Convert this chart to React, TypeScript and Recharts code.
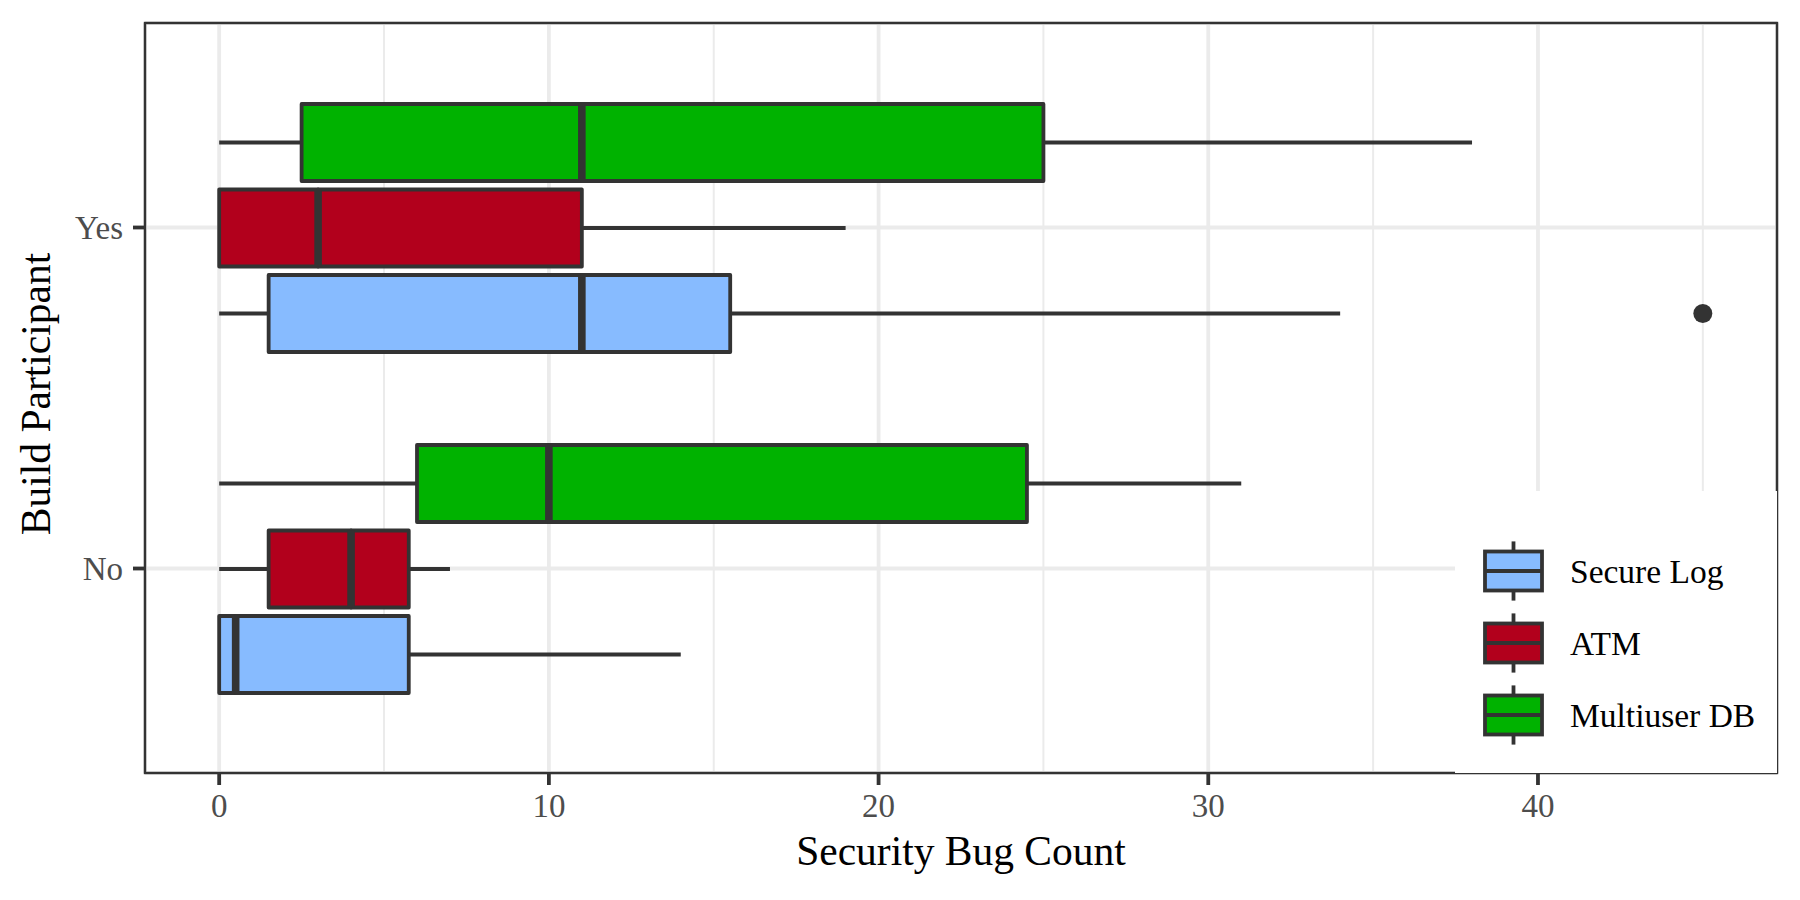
import { BarChart, Bar, XAxis, YAxis, CartesianGrid, Customized, Label } from "recharts"

// five-number summaries: [lower whisker, Q1, median, Q3, upper whisker]
const categories = ["Yes", "No"]
const seriesNames = ["Multiuser DB", "ATM", "Secure Log"]
const seriesColors = ["#00B200", "#B2001C", "#87BBFF"]
const multiuserDB = [[0, 2.5, 11, 25, 38], [0, 6, 10, 24.5, 31]]
const atm = [[0, 0, 3, 11, 19], [0, 1.5, 4, 5.75, 7]]
const secureLog = [[0, 1.5, 11, 15.5, 34], [0, 0, 0.5, 5.75, 14]]
const multiuserDBOutliers = [[], []]
const atmOutliers = [[], []]
const secureLogOutliers = [[45], []]
const majorTicks = [0, 10, 20, 30, 40]
const minorTicks = [5, 15, 25, 35, 45]
const legendOrder = [2, 1, 0] // Secure Log, ATM, Multiuser DB

const W = 1800
const H = 900
const PL = 145
const PR = 23
const PT = 23
const PB = 127
const X_AXIS_H = 60
const Y_AXIS_W = 100
const FONT = '"Liberation Serif", "Times New Roman", serif'
const LINE = "#333333"
const SW = 3.8
const GRID = "#EBEBEB"

const stats = [multiuserDB, atm, secureLog]
const outliers: number[][][] = [multiuserDBOutliers, atmOutliers, secureLogOutliers]
const keys = ["mdb", "atm", "slog"]

// stacked segments: 0 = up to lower whisker, 1 = lower whisker, 2 = Q1-median, 3 = median-Q3, 4 = upper whisker, 5 = gap to outlier
const data = categories.map((cat, i) => {
    const row: any = { cat }
    keys.forEach((k, s) => {
        const [lo, q1, md, q3, hi] = stats[s][i]
        const out = outliers[s][i].length ? Math.max(...outliers[s][i]) : hi
        row[k + "0"] = lo
        row[k + "1"] = q1 - lo
        row[k + "2"] = md - q1
        row[k + "3"] = q3 - md
        row[k + "4"] = hi - q3
        row[k + "5"] = out - hi
    })
    return row
})

const emptyShape = () => <g />

const whiskerShape = (p: any) => {
    const cy = p.y + p.height / 2
    if (!p.width) return <g />
    return <line x1={p.x} x2={p.x + p.width} y1={cy} y2={cy} stroke={LINE} strokeWidth={SW} />
}

const boxShape = (fill: string, median: boolean) => (p: any) => (
    <g>
        <rect x={p.x} y={p.y} width={p.width} height={p.height} fill={fill} stroke={LINE} strokeWidth={SW} strokeLinejoin="round" />
        {median && <line x1={p.x} x2={p.x} y1={p.y} y2={p.y + p.height} stroke={LINE} strokeWidth={SW * 2} />}
    </g>
)

const outlierShape = (p: any) => {
    if (!p.width) return <g />
    return <circle cx={p.x + p.width} cy={p.y + p.height / 2} r={9.5} fill={LINE} />
}

const minorGrid = ({ xAxis, offset }: any) => {
    if (xAxis && typeof xAxis.scale === "function") return minorTicks.map((v) => xAxis.scale(v))
    const [d0, d1] = [-2.25, 47.25]
    return minorTicks.map((v) => offset.left + ((v - d0) / (d1 - d0)) * offset.width)
}

const Overlay = () => {
    const lx = 1455
    const ly = 491
    const kx = 1485
    return (
        <g>
            <rect x={PL} y={PT} width={W - PL - PR} height={H - PT - PB} fill="none" stroke={LINE} strokeWidth={2.4} />
            <text
                transform="rotate(-90)"
                x={-394}
                y={50}
                textAnchor="middle"
                fontFamily={FONT}
                fontSize={41.5}
                fill="#000"
            >
                Build Participant
            </text>
            {/* legend box sits over the panel corner, leaving the outer half of the border visible */}
            <rect x={lx} y={ly} width={W - PR - lx} height={H - PB - ly} fill="#fff" />
            {legendOrder.map((s, i) => {
                const cy = 571 + 72 * i
                return (
                    <g key={s}>
                        <line x1={kx + 28.5} x2={kx + 28.5} y1={cy - 29.6} y2={cy + 29.6} stroke={LINE} strokeWidth={SW} />
                        <rect x={kx} y={cy - 19.5} width={57} height={39} fill={seriesColors[s]} stroke={LINE} strokeWidth={SW} />
                        <line x1={kx} x2={kx + 57} y1={cy} y2={cy} stroke={LINE} strokeWidth={SW} />
                        <text x={1570} y={cy} dy="0.35em" fontFamily={FONT} fontSize={33.5} fill="#000">
                            {seriesNames[s]}
                        </text>
                    </g>
                )
            })}
        </g>
    )
}

const App = () => {
    const tickStyle = { fill: "#4D4D4D", fontSize: 33, fontFamily: FONT }
    return (
        <div style={{ position: "absolute", left: 0, top: 0, width: W, height: H, background: "#fff" }}>
            <BarChart
                width={W}
                height={H}
                data={data}
                layout="vertical"
                margin={{ top: PT, right: PR, bottom: PB - X_AXIS_H, left: PL - Y_AXIS_W }}
                barSize={77}
                barGap={8.5}
            >
                <CartesianGrid stroke={GRID} strokeWidth={3.8} />
                <CartesianGrid horizontal={false} stroke={GRID} strokeWidth={2} verticalCoordinatesGenerator={minorGrid} />
                <XAxis
                    type="number"
                    domain={[-2.25, 47.25]}
                    ticks={majorTicks}
                    interval={0}
                    allowDataOverflow
                    height={X_AXIS_H}
                    tickSize={12}
                    tickMargin={9}
                    axisLine={false}
                    tickLine={{ stroke: LINE, strokeWidth: SW }}
                    tick={tickStyle}
                >
                    <Label value="Security Bug Count" position="bottom" offset={3} style={{ fontSize: 41.5, fontFamily: FONT, fill: "#000" }} />
                </XAxis>
                <YAxis
                    type="category"
                    dataKey="cat"
                    width={Y_AXIS_W}
                    padding={{ top: 34, bottom: 34 }}
                    tickSize={12}
                    tickMargin={10}
                    axisLine={false}
                    tickLine={{ stroke: LINE, strokeWidth: SW }}
                    tick={tickStyle}
                />
                {keys.map((k, s) =>
                    [0, 1, 2, 3, 4, 5].map((seg) => {
                        let shape: any = emptyShape
                        if (seg === 1 || seg === 4) shape = whiskerShape
                        if (seg === 2) shape = boxShape(seriesColors[s], false)
                        if (seg === 3) shape = boxShape(seriesColors[s], true)
                        if (seg === 5) shape = outlierShape
                        return (
                            <Bar
                                key={k + seg}
                                dataKey={k + seg}
                                stackId={k}
                                fill={seriesColors[s]}
                                shape={shape}
                                isAnimationActive={false}
                            />
                        )
                    })
                )}
                <Customized component={<Overlay />} />
            </BarChart>
        </div>
    )
}

export default App
